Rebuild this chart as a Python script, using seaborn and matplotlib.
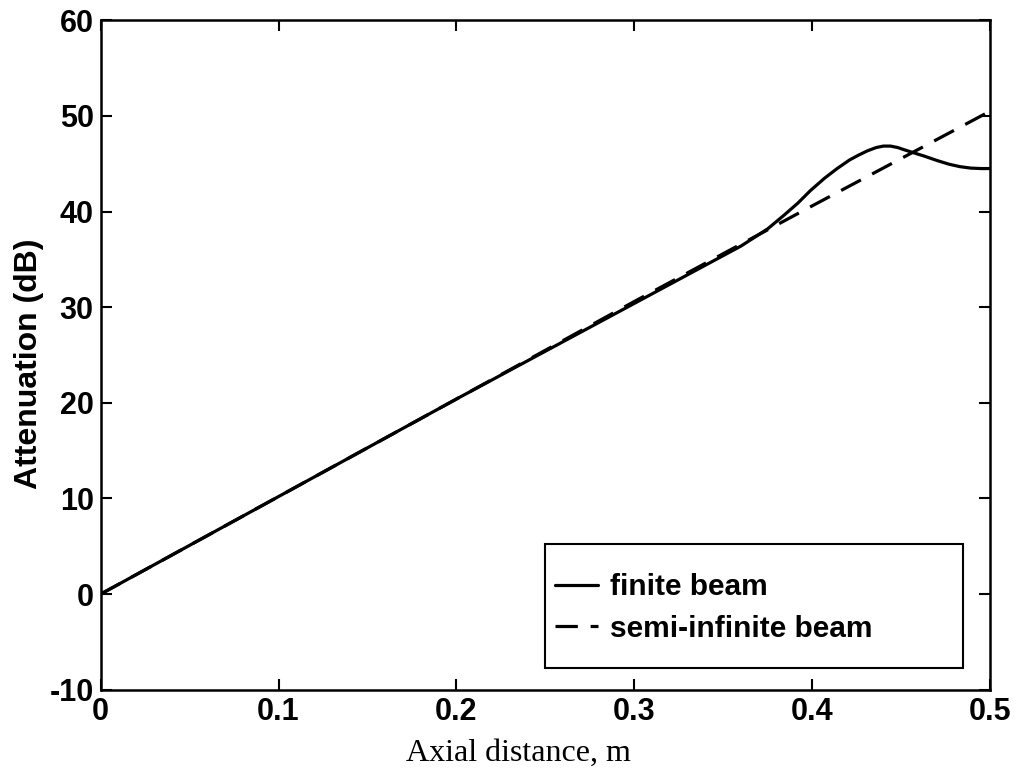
import numpy as np
import pandas as pd
import matplotlib
matplotlib.use("Agg")
import matplotlib.pyplot as plt
import seaborn as sns
from matplotlib.patches import Rectangle

# values
finite_x = [0.0, 0.1, 0.2, 0.3, 0.33, 0.36, 0.375, 0.384, 0.392, 0.399, 0.407,
            0.414, 0.421, 0.426, 0.431, 0.436, 0.440, 0.444, 0.448, 0.452,
            0.457, 0.463, 0.470, 0.477, 0.483, 0.489, 0.495, 0.5]
finite_db = [0.0, 10.2, 20.4, 30.4, 33.4, 36.4, 38.2, 39.6, 40.9, 42.2, 43.5,
             44.5, 45.4, 45.9, 46.35, 46.7, 46.85, 46.85, 46.7, 46.45,
             46.15, 45.8, 45.35, 44.95, 44.7, 44.55, 44.5, 44.5]

semi_x = [0.0, 0.1, 0.2, 0.3, 0.4, 0.5]
semi_db = [0.0, 10.2, 20.4, 30.6, 40.6, 50.5]

labels = ["finite beam", "semi-infinite beam"]

df_fin = pd.DataFrame({"x": finite_x, "y": finite_db})
df_semi = pd.DataFrame({"x": semi_x, "y": semi_db})

sns.set_style("ticks")
plt.rcParams["font.family"] = ["Liberation Sans", "DejaVu Sans"]
plt.rcParams["axes.unicode_minus"] = False
plt.rcParams["xtick.direction"] = "in"
plt.rcParams["ytick.direction"] = "in"
plt.rcParams["text.color"] = "black"
plt.rcParams["axes.labelcolor"] = "black"

fig = plt.figure(figsize=(10.2, 7.82), dpi=100)
ax = fig.add_axes([0.0987, 0.118, 0.872, 0.856])

sns.lineplot(data=df_fin, x="x", y="y", ax=ax, color="black", lw=2.3,
             label=labels[0], sort=False)
sns.lineplot(data=df_semi, x="x", y="y", ax=ax, color="black", lw=2.3,
             label=labels[1], sort=False)
ax.lines[1].set_dashes((7, 4))

ax.set_xlim(0, 0.5)
ax.set_ylim(-10, 60)
ax.set_xticks([0, 0.1, 0.2, 0.3, 0.4, 0.5])
ax.set_xticklabels(["0", "0.1", "0.2", "0.3", "0.4", "0.5"])
ax.set_yticks(range(-10, 61, 10))

ax.tick_params(axis="both", which="both", top=True, right=True, length=8,
               width=1.5, labelsize=22, colors="black", pad=5)
for lab in ax.get_xticklabels() + ax.get_yticklabels():
    lab.set_fontweight("bold")
for s in ax.spines.values():
    s.set_visible(True)
    s.set_linewidth(1.8)
    s.set_color("black")

ax.set_xlabel("Axial distance, m", fontsize=23, family="Liberation Serif")
ax.xaxis.set_label_coords(0.47, -0.074)
ax.set_ylabel("Attenuation (dB)", fontsize=23, fontweight="bold")
ax.yaxis.set_label_coords(-0.064, 0.487)

# legend box is wider than its contents, as in the original
ax.add_patch(Rectangle((0.4996, 0.0329), 0.47, 0.185, transform=ax.transAxes,
                       fill=True, facecolor="white", edgecolor="black",
                       lw=1.5, zorder=4))
leg = ax.legend(loc="upper left", bbox_to_anchor=(0.511, 0.174),
                fontsize=21.5, frameon=False, handlelength=1.45,
                handletextpad=0.38, borderpad=0, labelspacing=0.45,
                borderaxespad=0)
leg.set_zorder(5)
for t in leg.get_texts():
    t.set_fontweight("bold")

fig.savefig("out.png", dpi=100)
